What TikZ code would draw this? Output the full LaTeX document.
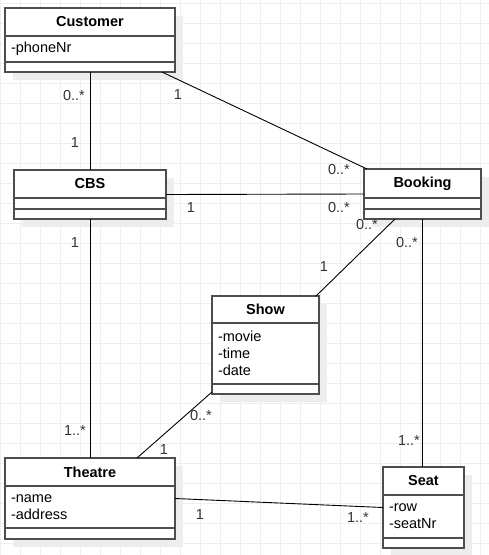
\documentclass[tikz,border=0pt]{standalone}
\usepackage{fontspec}
\setmainfont{Liberation Sans}
\usetikzlibrary{positioning,fit,backgrounds,calc}

\definecolor{gridgray}{HTML}{EEEEEE}
\definecolor{boxgray}{HTML}{4D4D4D}
\definecolor{shadowgray}{HTML}{EDEDED}
\definecolor{textgray}{HTML}{333333}

\tikzset{
  classtitle/.style={draw=boxgray, fill=white, line width=1.2pt,
    font=\fontsize{14.5}{17}\selectfont\bfseries,
    minimum height=28pt, inner sep=0pt, outer sep=0pt, anchor=north west},
  classattr/.style={draw=boxgray, fill=white, line width=1.2pt, inner xsep=6pt,
    inner ysep=0pt, outer sep=0pt, align=left},
  classops/.style={draw=boxgray, fill=white, line width=1.2pt, inner sep=0pt,
    outer sep=0pt, minimum height=10pt},
  classfit/.style={inner sep=0pt, outer sep=0pt},
  shadowbox/.style={fill=shadowgray},
  assoc/.style={draw=black, line width=0.9pt},
  mult/.style={text=textgray, inner sep=0pt}
}

\begin{document}
\begin{tikzpicture}[x=1pt, y=-1pt, font=\fontsize{14.5}{17}\selectfont]

\useasboundingbox (0,0) rectangle (489,555);

% Grid
\begin{scope}[on background layer]
  \foreach \x in {0,20,...,480}
    \draw[gridgray, line width=1pt] (\x,0) -- (\x,555);
  \foreach \y in {3.5,23.5,...,543.5}
    \draw[gridgray, line width=1pt] (0,\y) -- (489,\y);
\end{scope}

% Customer
\node[classtitle, minimum width=170pt] (customertitle) at (5,8) {Customer};
\node[classattr, text width=158pt, minimum height=26pt, below=0pt of customertitle] (customerattr) {-phoneNr};
\node[classops, minimum width=170pt, below=0pt of customerattr] (customerops) {};
\node[classfit, fit=(customertitle)(customerops)] (customer) {};

% CBS
\node[classtitle, minimum width=152pt] (cbstitle) at (14,170) {CBS};
\node[classattr, text width=140pt, minimum height=11pt, below=0pt of cbstitle] (cbsattr) {};
\node[classops, minimum width=152pt, below=0pt of cbsattr] (cbsops) {};
\node[classfit, fit=(cbstitle)(cbsops)] (cbs) {};

% Booking
\node[classtitle, minimum width=117pt, minimum height=29pt] (bookingtitle) at (364,169) {Booking};
\node[classattr, text width=105pt, minimum height=11pt, below=0pt of bookingtitle] (bookingattr) {};
\node[classops, minimum width=117pt, below=0pt of bookingattr] (bookingops) {};
\node[classfit, fit=(bookingtitle)(bookingops)] (booking) {};

% Show
\node[classtitle, minimum width=107pt, minimum height=27pt] (showtitle) at (212,296) {Show};
\node[classattr, text width=95pt, minimum height=61pt, below=0pt of showtitle] (showattr) {-movie\\-time\\-date};
\node[classops, minimum width=107pt, below=0pt of showattr] (showops) {};
\node[classfit, fit=(showtitle)(showops)] (show) {};

% Theatre
\node[classtitle, minimum width=170pt] (theatretitle) at (5,458) {Theatre};
\node[classattr, text width=158pt, minimum height=42pt, below=0pt of theatretitle] (theatreattr) {-name\\-address};
\node[classops, minimum width=170pt, minimum height=11pt, below=0pt of theatreattr] (theatreops) {};
\node[classfit, fit=(theatretitle)(theatreops)] (theatre) {};

% Seat
\node[classtitle, minimum width=81pt] (seattitle) at (383,467) {Seat};
\node[classattr, text width=69pt, minimum height=43pt, below=0pt of seattitle] (seatattr) {-row\\-seatNr};
\node[classops, minimum width=81pt, below=0pt of seatattr] (seatops) {};
\node[classfit, fit=(seattitle)(seatops)] (seat) {};

% Shadows
\begin{scope}[on background layer]
  \foreach \c in {customer,cbs,booking,show,theatre,seat}
    \fill[shadowbox] ($(\c.north west)+(8,8)$) rectangle ($(\c.south east)+(8,8)$);
\end{scope}

% Associations
\draw[assoc] (customer.south) -- (cbs.north);
\draw[assoc] ($(customer.south east)+(-13,0)$) -- ($(booking.north west)+(3,0)$);
\draw[assoc] (cbs.east) -- (booking.west);
\draw[assoc] (cbs.south) -- (theatre.north);
\draw[assoc] ($(booking.south west)+(31,0)$) -- ($(show.north east)+(-3,0)$);
\draw[assoc] (booking.south) -- (booking.south |- seat.north);
\draw[assoc] ($(show.south west)+(0,-2)$) -- ($(theatre.north west)+(132,0)$);
\draw[assoc] (theatre.east) -- (seat.west);

% Multiplicities
\node[mult] (custcbs1) at (74,96) {0..*};
\node[mult] (custcbs2) at (75,143) {1};
\node[mult] (custbook1) at (178,95) {1};
\node[mult] (custbook2) at (339,170) {0..*};
\node[mult] (cbsbook1) at (191,208) {1};
\node[mult] (cbsbook2) at (339,208) {0..*};
\node[mult] (cbsthea1) at (75,243) {1};
\node[mult] (cbsthea2) at (75,431) {1..*};
\node[mult] (bookshow1) at (367,225) {0..*};
\node[mult] (bookshow2) at (324,267) {1};
\node[mult] (bookseat1) at (407,243) {0..*};
\node[mult] (bookseat2) at (409,441) {1..*};
\node[mult] (showthea1) at (201,416) {0..*};
\node[mult] (showthea2) at (164,450) {1};
\node[mult] (theaseat1) at (200,515) {1};
\node[mult] (theaseat2) at (358,518) {1..*};

\end{tikzpicture}
\end{document}
